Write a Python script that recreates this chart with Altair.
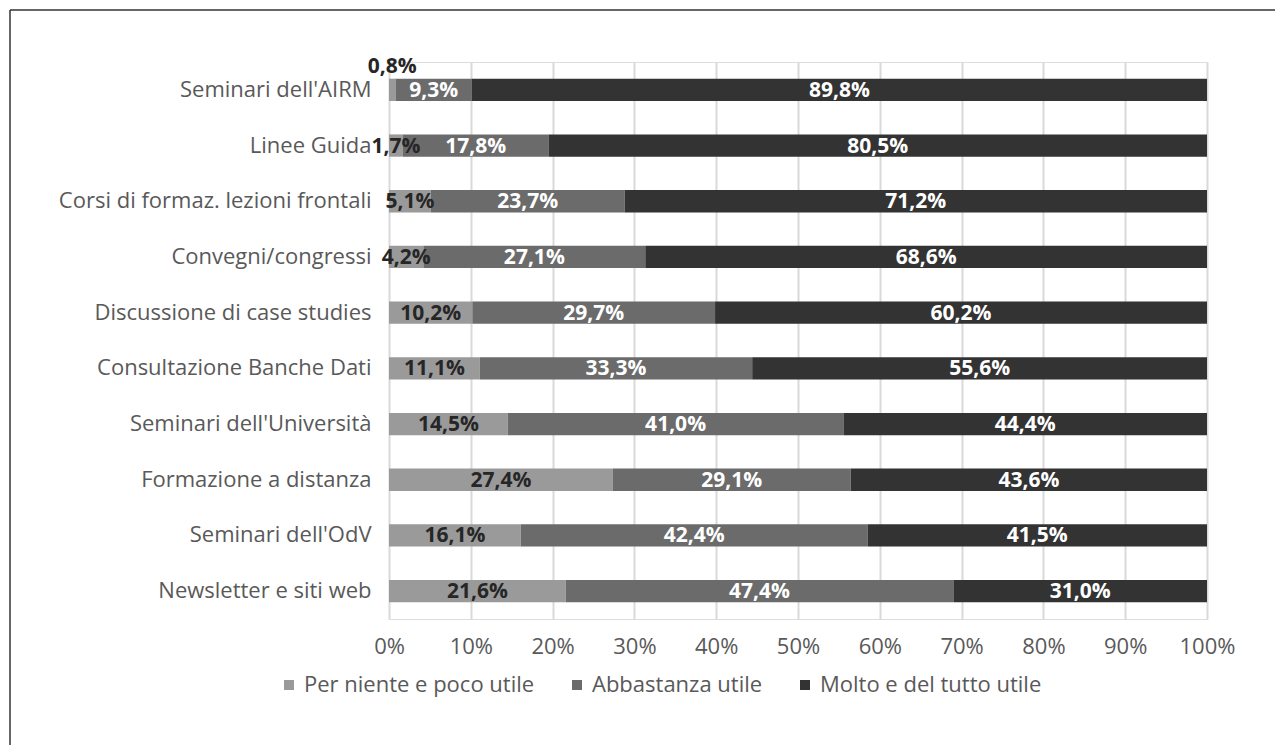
import altair as alt
import pandas as pd

categories = ["Seminari dell'AIRM", "Linee Guida", "Corsi di formaz. lezioni frontali",
              "Convegni/congressi", "Discussione di case studies", "Consultazione Banche Dati",
              "Seminari dell'Università", "Formazione a distanza", "Seminari dell'OdV",
              "Newsletter e siti web"]
series = ["Per niente e poco utile", "Abbastanza utile", "Molto e del tutto utile"]
low = [0.8, 1.7, 5.1, 4.2, 10.2, 11.1, 14.5, 27.4, 16.1, 21.6]
mid = [9.3, 17.8, 23.7, 27.1, 29.7, 33.3, 41.0, 29.1, 42.4, 47.4]
high = [89.8, 80.5, 71.2, 68.6, 60.2, 55.6, 44.4, 43.6, 41.5, 31.0]
colors = ["#9a9a9a", "#6b6b6b", "#333333"]
text_colors = ["#262626", "#ffffff", "#ffffff"]

rows = []
for i, c in enumerate(categories):
    vals = [low[i], mid[i], high[i]]
    tot = sum(vals)
    acc = 0.0
    for j, s in enumerate(series):
        v = vals[j]
        st = acc / tot
        en = (acc + v) / tot
        acc += v
        rows.append({
            "cat": c, "series": s, "value": v, "start": st, "end": en,
            "mid": (st + en) / 2,
            "label": f"{v:.1f}".replace(".", ",") + "%",
            "tcol": text_colors[j],
            "small": v < 1,
        })
df = pd.DataFrame(rows)

FONT = "Open Sans"
AFS = 22
BFS = 21

yenc = alt.Y("cat:N", sort=categories,
             scale=alt.Scale(paddingInner=0.6, paddingOuter=0.3),
             axis=alt.Axis(title=None, domain=False, ticks=False, grid=False,
                           labelFontSize=AFS, labelColor="#595959", labelPadding=18,
                           labelLimit=500, labelFont=FONT))

bars = alt.Chart(df).mark_bar().encode(
    y=yenc,
    x=alt.X("start:Q", scale=alt.Scale(domain=[0, 1], nice=False),
            axis=alt.Axis(title=None, values=[i / 10 for i in range(11)], format=".0%",
                          grid=True, gridColor="#d9d9d9", gridWidth=2, domain=False,
                          ticks=False, labelFontSize=AFS, labelColor="#595959",
                          labelPadding=17, labelFont=FONT, labelFlush=False)),
    x2="end:Q",
    color=alt.Color("series:N", sort=series,
                    scale=alt.Scale(domain=series, range=colors),
                    legend=alt.Legend(title=None, orient="none", legendX=-111, legendY=612,
                                      direction="horizontal", symbolType="square",
                                      symbolSize=100, symbolStrokeWidth=0,
                                      labelFontSize=AFS, labelColor="#595959",
                                      labelFont=FONT, columnPadding=31, labelOffset=4,
                                      labelLimit=600)),
)

labels = alt.Chart(df).transform_filter("!datum.small").mark_text(
    fontSize=BFS, fontWeight="bold", font=FONT, baseline="middle", dy=1
).encode(
    y=alt.Y("cat:N", sort=categories),
    x=alt.X("mid:Q"),
    text="label:N",
    color=alt.Color("tcol:N", scale=None),
)

small_labels = alt.Chart(df).transform_filter("datum.small").mark_text(
    fontSize=BFS, fontWeight="bold", font=FONT, baseline="middle", dy=-23
).encode(
    y=alt.Y("cat:N", sort=categories),
    x=alt.X("mid:Q"),
    text="label:N",
    color=alt.value("#262626"),
)

frame_top = alt.Chart(pd.DataFrame({"a": [0]})).mark_rule(
    stroke="#333333", strokeWidth=1.5
).encode(x=alt.value(-379), x2=alt.value(1100), y=alt.value(-52))

frame_left = alt.Chart(pd.DataFrame({"a": [0]})).mark_rule(
    stroke="#333333", strokeWidth=1.5
).encode(x=alt.value(-379), y=alt.value(-52), y2=alt.value(900))

chart = alt.layer(frame_top, frame_left, bars, labels, small_labels).properties(
    width=818, height=557,
    padding={"left": 381, "top": 54, "right": 68, "bottom": 126},
    autosize=alt.AutoSizeParams(type="none"),
).configure_view(stroke=None).configure(background="white")

chart.save("out.html", embed_options={"renderer": "svg", "actions": False})
